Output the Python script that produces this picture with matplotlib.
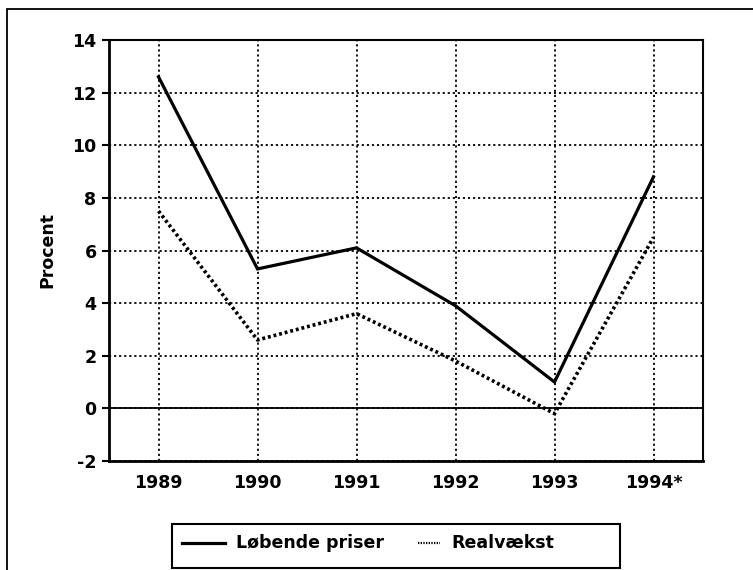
import matplotlib.pyplot as plt
from matplotlib.lines import Line2D
from matplotlib.patches import Rectangle

years = ['1989', '1990', '1991', '1992', '1993', '1994*']
loebende_priser = [12.6, 5.3, 6.1, 3.9, 1.0, 8.8]
realvaekst = [7.5, 2.6, 3.6, 1.8, -0.2, 6.5]
labels = ['Løbende priser', 'Realvækst']
yticks = [-2, 0, 2, 4, 6, 8, 10, 12, 14]

plt.rcParams['font.family'] = ['DejaVu Sans']
plt.rcParams['font.weight'] = 'bold'

W, H = 753, 570
fig = plt.figure(figsize=(W / 100, H / 100), dpi=100)
ax = fig.add_axes([109 / W, 1 - 461 / H, 594 / W, 421 / H])

x = range(len(years))
ax.plot(x, loebende_priser, color='black', lw=2.3, solid_joinstyle='miter', zorder=3)
ax.plot(x, realvaekst, color='black', lw=2.6, linestyle=(0, (0.8, 0.8)), zorder=3)

# zero line
ax.axhline(0, color='black', lw=1.3, zorder=2)

ax.set_xlim(-0.5, len(years) - 0.5)
ax.set_ylim(-2, 14)
ax.set_xticks(list(x))
ax.set_xticklabels(years, fontsize=12.5, fontweight='bold')
ax.set_yticks(yticks)
ax.set_yticklabels([str(v) for v in yticks], fontsize=12.5, fontweight='bold')
ax.tick_params(axis='x', length=0, pad=9)
ax.tick_params(axis='y', length=5, width=1.5, pad=4, direction='out')

ax.grid(True, color='black', lw=1.3, linestyle=(0, (1.2, 1.6)))
ax.set_axisbelow(True)

for side in ['left', 'bottom']:
    ax.spines[side].set_linewidth(2)
for side in ['top', 'right']:
    ax.spines[side].set_linewidth(1.5)

ax.set_ylabel('Procent', fontsize=12.5, fontweight='bold')
ax.yaxis.set_label_coords(-0.089, 0.5)

# outer frame (right and bottom run off the page)
fig.add_artist(Rectangle((7 / W, -0.05), 1.1, 1 - 9 / H + 0.05, transform=fig.transFigure,
                         fill=False, edgecolor='black', lw=1.3))

# legend box drawn by hand
fig.add_artist(Rectangle((172 / W, 1 - 568 / H), 448 / W, 44 / H, transform=fig.transFigure,
                         fill=False, edgecolor='black', lw=1.5))
ly = 1 - 543 / H
fig.add_artist(Line2D([182 / W, 225 / W], [ly, ly], transform=fig.transFigure,
                      color='black', lw=2.3))
fig.text(236 / W, ly, labels[0], fontsize=12.5, fontweight='bold', va='center', ha='left')
fig.add_artist(Line2D([418 / W, 440 / W], [ly, ly], transform=fig.transFigure,
                      color='black', lw=1.6, linestyle=(0, (0.6, 0.6))))
fig.text(451 / W, ly, labels[1], fontsize=12.5, fontweight='bold', va='center', ha='left')

fig.savefig('out.png', dpi=100)
